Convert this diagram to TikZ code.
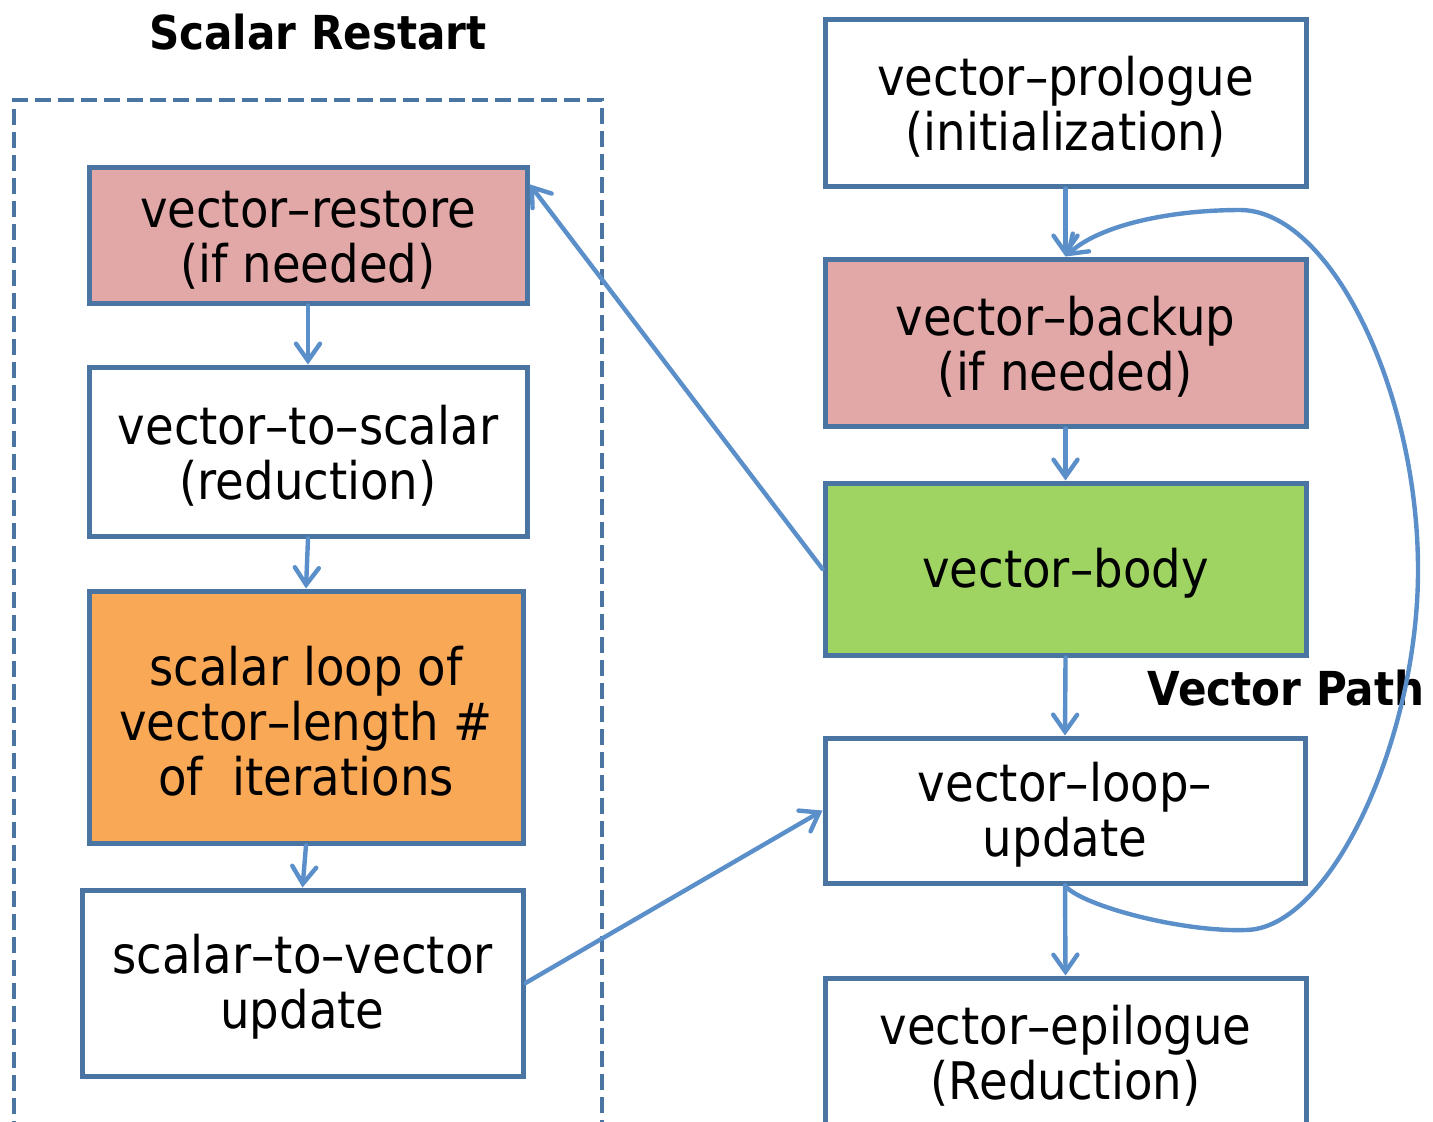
\documentclass[tikz,border=0pt]{standalone}
\usepackage{fontspec}
\setmainfont{DejaVu Sans}[FakeStretch=0.9]
\usetikzlibrary{arrows.meta,calc}

\definecolor{edgeblue}{HTML}{4A74A2}
\definecolor{linkblue}{HTML}{5B8FC9}
\definecolor{pinkfill}{HTML}{E1A8A7}
\definecolor{greenfill}{HTML}{A0D462}
\definecolor{orangefill}{HTML}{F9A856}

% extra headroom on a label's first line, which lowers its text a little
\newcommand\toproom{\rule{0pt}{23.7pt}}

\tikzset{
  stagebox/.style={draw=edgeblue, line width=2.5pt, fill=white, inner sep=0pt,
    align=center, font=\fontsize{25.9}{27.5}\selectfont},
  heading/.style={font=\bfseries\fontsize{23.4}{28}\selectfont, inner sep=0pt},
  flow/.style={draw=linkblue, line width=2.2pt, line cap=round,
    -{Straight Barb[length=8.5pt,width=12pt,line cap=round]}},
  groupframe/.style={draw=edgeblue, line width=2.3pt, dash pattern=on 8pt off 3.5pt}
}

\begin{document}
\begin{tikzpicture}[x=0.5pt, y=-0.5pt]
  % page frame
  \useasboundingbox (0,0) rectangle (1433,1121);
  \clip (0,0) rectangle (1433,1121);

  % scalar restart group
  \node[heading] (scalarhead) at (318,32) {Scalar Restart};
  \draw[groupframe] (14,1160) -- (14,100) -- (602,100) -- (602,1160);

  \node[stagebox, fill=pinkfill, minimum width=219pt, minimum height=68pt]
    (restore) at (308,235) {\toproom vector–restore\\(if needed)};
  \node[stagebox, minimum width=219pt, minimum height=84.5pt]
    (vtos) at (308,451.5) {\toproom vector–to–scalar\\(reduction)};
  \node[stagebox, fill=orangefill, minimum width=217pt, minimum height=126pt]
    (scalarloop) at (306,717) {\toproom scalar loop of\\vector–length \#\\of~~iterations};
  \node[stagebox, minimum width=220.5pt, minimum height=93pt]
    (stov) at (302.5,983) {\toproom scalar–to–vector\\update};

  % vector path
  \node[stagebox, minimum width=240.5pt, minimum height=83.5pt]
    (prologue) at (1065.5,102.5) {\toproom vector–prologue\\(initialization)};
  \node[stagebox, fill=pinkfill, minimum width=240.5pt, minimum height=83.5pt]
    (backup) at (1065.5,342.5) {\toproom vector–backup\\(if needed)};
  \node[stagebox, fill=greenfill, minimum width=240.5pt, minimum height=86pt]
    (body) at (1065.5,569) {\toproom vector–body};
  \node[stagebox, minimum width=240pt, minimum height=72.5pt]
    (update) at (1065,810.5) {\toproom vector–loop–\\update};
  \node[stagebox, minimum width=240.5pt, minimum height=74pt]
    (epilogue) at (1065.5,1052) {\toproom vector–epilogue\\(Reduction)};
  \node[heading] (vectorhead) at (1286,688) {Vector Path};

  % straight-line flow
  \draw[flow] (restore.south) -- (vtos.north);
  \draw[flow] (vtos.south) -- (scalarloop.north);
  \draw[flow] (scalarloop.south) -- (stov.north);
  \draw[flow] (prologue.south) -- (backup.north);
  \draw[flow] (backup.south) -- (body.north);
  \draw[flow] (body.south) -- (update.north);
  \draw[flow] (update.south) -- (epilogue.north);

  % exits into and out of the scalar restart
  \coordinate (restorein) at ($(restore.north east)!0.14!(restore.south east)$);
  \draw[flow] (body.west) -- (restorein);
  \draw[flow] (stov.east) -- (update.west);

  % loop back edge
  \draw[flow] (update.south)
    .. controls (1080,905) and (1180,932) .. (1245,930)
    .. controls (1330,930) and (1418,740) .. (1418,570)
    .. controls (1418,390) and (1330,210) .. (1240,210)
    .. controls (1170,210) and (1100,225) .. (backup.north);
\end{tikzpicture}
\end{document}
